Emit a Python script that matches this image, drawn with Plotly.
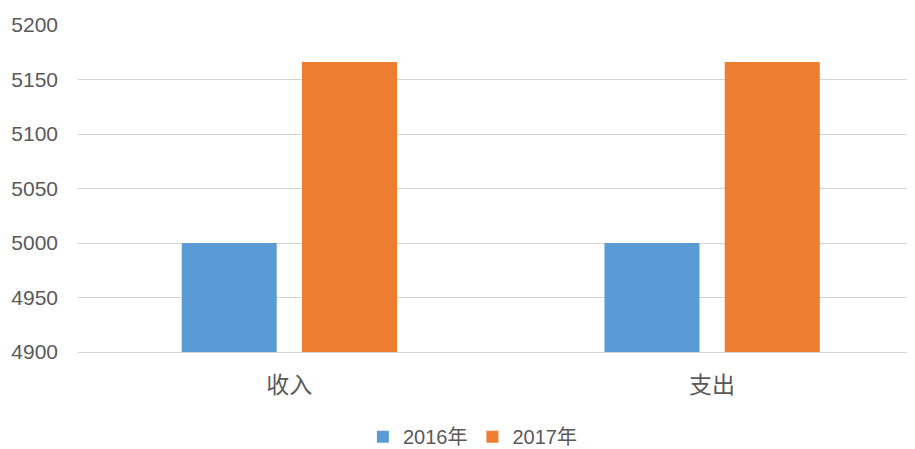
import plotly.graph_objects as go

categories = ["收入", "支出"]
series_names = ["2016年", "2017年"]
values_2016 = [5000, 5000]
values_2017 = [5166, 5166]
colors = ["#5B9BD5", "#ED7D31"]
y_ticks = [4900, 4950, 5000, 5050, 5100, 5150, 5200]

fig = go.Figure()
for name, vals, col in zip(series_names, [values_2016, values_2017], colors):
    fig.add_trace(go.Bar(x=categories, y=vals, name=name, marker=dict(color=col, line=dict(width=0))))

fam = "Liberation Sans, Noto Sans CJK SC, sans-serif"

fig.update_layout(
    width=907, height=441,
    margin=dict(l=70, r=0, t=17, b=97),
    paper_bgcolor="white", plot_bgcolor="white",
    barmode="group", bargap=0.431, bargroupgap=0.21,
    font=dict(family=fam, size=21, color="#595959"),
    showlegend=True,
    legend=dict(orientation="h", xref="container", x=0.512, xanchor="center",
                yref="container", y=0.028, yanchor="middle",
                font=dict(family=fam, size=20, color="#595959"),
                itemwidth=30, tracegroupgap=0),
)
fig.update_xaxes(range=[-0.5, 1.48], showgrid=False, showline=True, linecolor="#d4d4d4", linewidth=1,
                 ticks="", ticklabelstandoff=12, tickfont=dict(size=23), automargin=False)
fig.update_yaxes(range=[4900, 5200], tickvals=y_ticks, showgrid=True, gridcolor="#d4d4d4", gridwidth=1,
                 zeroline=False, showline=False, ticks="", ticklabelstandoff=19, automargin=False)

fig.write_html("out.html")
